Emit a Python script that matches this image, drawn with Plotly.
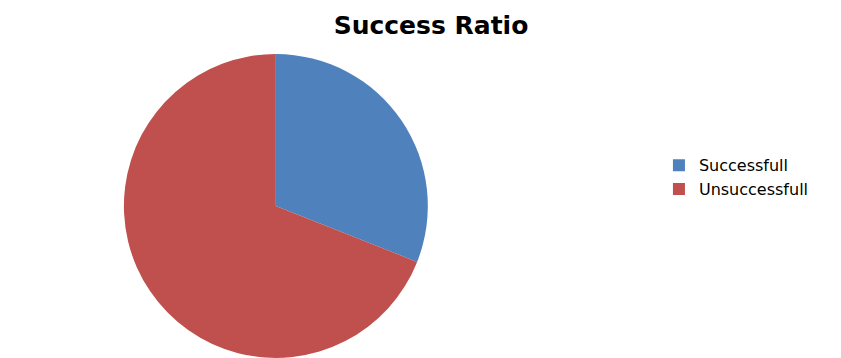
import plotly.graph_objects as go

labels = ["Successfull", "Unsuccessfull"]
values = [31, 69]
colors = ["#4F81BD", "#C0504D"]

fig = go.Figure(go.Pie(
    labels=labels,
    values=values,
    marker=dict(colors=colors, line=dict(width=0)),
    sort=False,
    direction="clockwise",
    rotation=0,
    textinfo="none",
    hoverinfo="label+percent",
    domain=dict(x=[0, 0.637], y=[0.0226, 0.8715]),
))

fig.update_layout(
    width=841, height=358,
    margin=dict(l=0, r=0, t=0, b=0),
    paper_bgcolor="white",
    plot_bgcolor="white",
    title=dict(text="<b>Success Ratio</b>", x=0.503, xanchor="center", y=0.952, yanchor="middle",
               font=dict(family="DejaVu Sans, sans-serif", size=25, color="black")),
    legend=dict(x=0.774, xanchor="left", y=0.527, yanchor="middle",
                font=dict(family="DejaVu Sans, sans-serif", size=16, color="black"),
                itemwidth=30, tracegroupgap=0, traceorder="normal"),
    showlegend=True,
)

fig.write_html("out.html")
